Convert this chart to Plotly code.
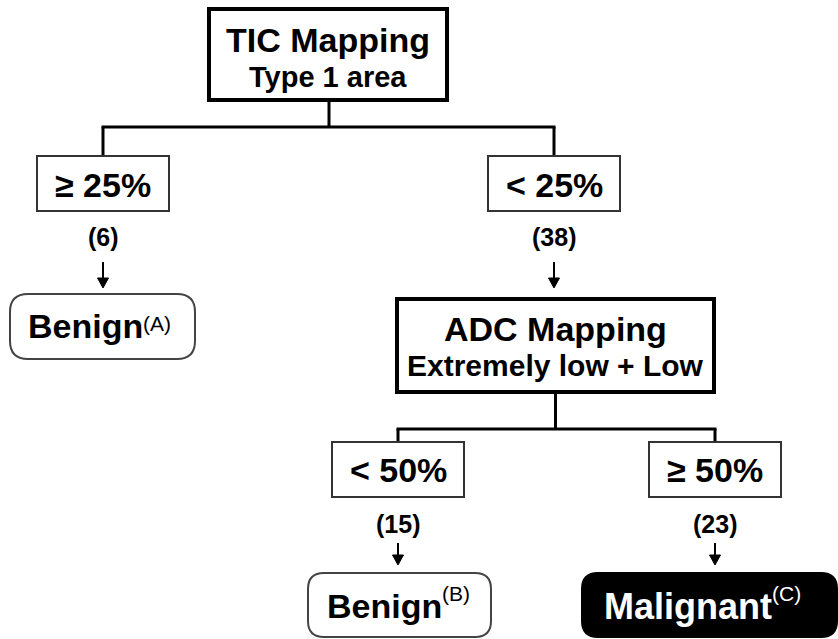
import plotly.graph_objects as go

# ---------------- data ----------------
root_title = "TIC Mapping"
root_sub = "Type 1 area"
split1_labels = ["≥ 25%", "< 25%"]
split1_counts = [6, 38]
node2_title = "ADC Mapping"
node2_sub = "Extremely low + Low"
split2_labels = ["< 50%", "≥ 50%"]
split2_counts = [15, 23]
outcome_labels = ["Benign", "Benign", "Malignant"]
outcome_tags = ["A", "B", "C"]

# ---------------- layout geometry (pixel-like data units) ----------------
W, H = 838, 639
FONT = "Arial, Liberation Sans, sans-serif"

root_box = (209, 9, 447, 100)
adc_box = (397, 299, 714, 392)
split1_boxes = [(37, 156, 169, 211), (488, 156, 620, 211)]
split2_boxes = [(332, 442, 464, 497), (649, 442, 781, 497)]
outcome_boxes = [(10, 294, 195, 359), (308, 573, 491, 637), (582, 573, 837, 637)]
outcome_join_x = [143, 442, 772]      # where label ends and superscript tag begins
outcome_label_y = [326, 606, 606]
outcome_tag_y = [323, 593, 593]
outcome_label_size = [34, 34, 36]

shapes = []
annotations = []


def rect(box, width, color="black", fill="white"):
    x0, y0, x1, y1 = box
    shapes.append(dict(type="rect", xref="x", yref="y", x0=x0, y0=y0, x1=x1, y1=y1,
                       line=dict(color=color, width=width), fillcolor=fill, layer="above"))


def rrect(box, r, width, color, fill):
    x0, y0, x1, y1 = box
    p = (f"M {x0+r},{y0} L {x1-r},{y0} Q {x1},{y0} {x1},{y0+r} "
         f"L {x1},{y1-r} Q {x1},{y1} {x1-r},{y1} L {x0+r},{y1} "
         f"Q {x0},{y1} {x0},{y1-r} L {x0},{y0+r} Q {x0},{y0} {x0+r},{y0} Z")
    shapes.append(dict(type="path", xref="x", yref="y", path=p,
                       line=dict(color=color, width=width), fillcolor=fill, layer="above"))


def line(x0, y0, x1, y1, w=3):
    shapes.append(dict(type="line", xref="x", yref="y", x0=x0, y0=y0, x1=x1, y1=y1,
                       line=dict(color="black", width=w), layer="above"))


def arrow(x, y0, y1):
    line(x, y0, x, y1 - 9, w=2)
    p = f"M {x-5.5},{y1-10} L {x+5.5},{y1-10} L {x},{y1} Z"
    shapes.append(dict(type="path", xref="x", yref="y", path=p,
                       line=dict(color="black", width=1), fillcolor="black", layer="above"))


def text(x, y, s, size, color="black", weight="bold", anchor="center"):
    annotations.append(dict(x=x, y=y, xref="x", yref="y", text=s,
                            showarrow=False, xanchor=anchor, yanchor="middle",
                            borderpad=0, borderwidth=0,
                            font=dict(family=FONT, size=size, color=color, weight=weight)))


def outcome_text(i, color):
    jx = outcome_join_x[i]
    text(jx, outcome_label_y[i], outcome_labels[i], outcome_label_size[i], color=color, anchor="right")
    text(jx, outcome_tag_y[i], f"({outcome_tags[i]})", 21, color=color, weight="normal", anchor="left")


# root node
rect(root_box, 4)
cx = (root_box[0] + root_box[2]) / 2
text(cx, 40, root_title, 34)
text(cx, 77, root_sub, 29)

# connectors from root
bx = [(b[0] + b[2]) / 2 for b in split1_boxes]
line(329, 102, 329, 127)
line(bx[0] - 1.5, 127, bx[1] + 1.5, 127)
for x in bx:
    line(x, 127, x, 156)

# first split
for b, lab, n, x in zip(split1_boxes, split1_labels, split1_counts, bx):
    rect(b, 2, color="#333333")
    text(x, 185, lab, 34)
    text(x, 237, f"({n})", 25)
    arrow(x, 262, 288)

# outcome A
rrect(outcome_boxes[0], 18, 2, "#444444", "white")
outcome_text(0, "black")

# ADC node
rect(adc_box, 4)
ax_c = (adc_box[0] + adc_box[2]) / 2
text(ax_c, 329, node2_title, 34)
text(ax_c, 365, node2_sub, 30)

# connectors from ADC
bx2 = [(b[0] + b[2]) / 2 for b in split2_boxes]
line(ax_c, 394, ax_c, 429)
line(bx2[0] - 1.5, 429, bx2[1] + 1.5, 429)
for x in bx2:
    line(x, 429, x, 442)

for b, lab, n, x in zip(split2_boxes, split2_labels, split2_counts, bx2):
    rect(b, 2, color="#333333")
    text(x, 470, lab, 34)
    text(x, 524, f"({n})", 25)
    arrow(x, 543, 565)

# outcomes B and C
rrect(outcome_boxes[1], 16, 2, "#444444", "white")
outcome_text(1, "black")
rrect(outcome_boxes[2], 16, 2, "black", "black")
outcome_text(2, "white")

fig = go.Figure()
fig.update_layout(
    width=W, height=H,
    margin=dict(l=0, r=0, t=0, b=0),
    paper_bgcolor="white", plot_bgcolor="white",
    xaxis=dict(range=[0, W], visible=False, fixedrange=True),
    yaxis=dict(range=[H, 0], visible=False, fixedrange=True),
    shapes=shapes, annotations=annotations, showlegend=False,
)
fig.write_html("out.html", config={"displayModeBar": False},
               post_script="document.body.style.margin='0';document.body.style.overflow='hidden';")
